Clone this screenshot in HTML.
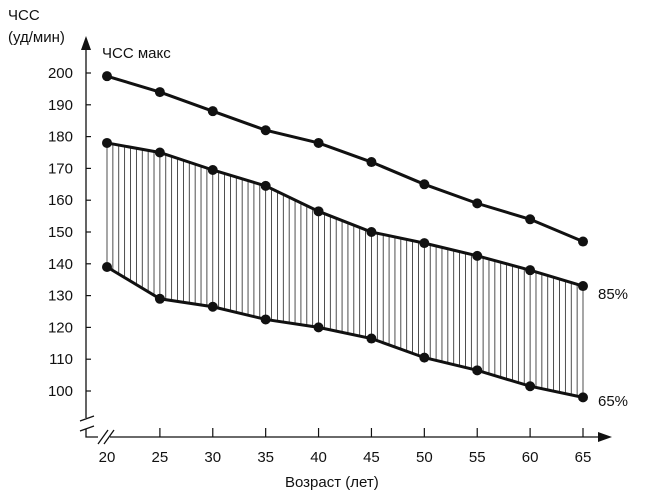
<!DOCTYPE html>
<html><head><meta charset="utf-8"><style>
body{margin:0;background:#fff}
svg text{font-family:"Liberation Sans",sans-serif;fill:#111}
</style></head><body>
<svg width="650" height="496">
<g id="g"></g>
</svg>
<script>
const ages=[20,25,30,35,40,45,50,55,60,65];
const hrMax=[199,194,188,182,178,172,165,159,154,147];
const hr85=[178,175,169.5,164.5,156.5,150,146.5,142.5,138,133];
const hr65=[139,129,126.5,122.5,120,116.5,110.5,106.5,101.5,98];
const yTicks=[100,110,120,130,140,150,160,170,180,190,200];
const X=a=>107+(a-20)*(583-107)/45;
const Y=v=>391-(v-100)*(391-73)/100;
const g=document.getElementById('g');
const NS='http://www.w3.org/2000/svg';
function mk(t,at,txt){const e=document.createElementNS(NS,t);for(const k in at)e.setAttribute(k,at[k]);if(txt!=null)e.textContent=txt;g.appendChild(e);return e;}
// hatch
for(let i=0;i<ages.length-1;i++){
  const x0=X(ages[i]),x1=X(ages[i+1]);
  const n=9;
  for(let j=0;j<n;j++){
    const t=j/n;const x=x0+(x1-x0)*t;
    const a=Y(hr85[i]+(hr85[i+1]-hr85[i])*t), b=Y(hr65[i]+(hr65[i+1]-hr65[i])*t);
    const l=mk('line',{x1:x,x2:x,y1:a,y2:b,stroke:'#222','stroke-width':0.8});
    
  }
}
let l=mk('line',{x1:X(65),x2:X(65),y1:Y(hr85[9]),y2:Y(hr65[9]),stroke:'#222','stroke-width':0.8});
// axes
let ax=mk('path',{d:'M86 48 V418 M80 421 L94 416 M80 431 L94 426 M86 429 V437 H98 M98 444 L108 430 M104 444 L114 430 M110 437 H600',stroke:'#111','stroke-width':1.3,fill:'none'});

mk('path',{d:'M86 36 L81 50 L91 50 Z',fill:'#111'});
mk('path',{d:'M612 437 L598 432 L598 442 Z',fill:'#111'});
yTicks.forEach(v=>{
  const tk=mk('line',{x1:86,x2:91,y1:Y(v),y2:Y(v),stroke:'#111','stroke-width':1.2});
  
  const t=mk('text',{x:73,y:Y(v)+5,'text-anchor':'end','font-size':15},v);
  
});
ages.forEach(a=>{
  if(a>20){const tk=mk('line',{x1:X(a),x2:X(a),y1:428,y2:437,stroke:'#111','stroke-width':1.2});
  }
  const t=mk('text',{x:X(a),y:462,'text-anchor':'middle','font-size':15},a);
  
});
[[hrMax,'line-hr-max'],[hr85,'line-85'],[hr65,'line-65']].forEach(([s,n])=>{
  const p=mk('polyline',{points:ages.map((a,i)=>X(a)+','+Y(s[i])).join(' '),fill:'none',stroke:'#111','stroke-width':3});
  
  ages.forEach((a,i)=>{const c=mk('circle',{cx:X(a),cy:Y(s[i]),r:5,fill:'#111'});
  });
});
const labs=[[8,20,'ЧСС','y-axis-title'],[8,42,'(уд/мин)','y-axis-unit'],[102,58,'ЧСС макс','label-hr-max'],[598,299,'85%','label-85'],[598,406,'65%','label-65'],[285,487,'Возраст (лет)','x-axis-title']];
labs.forEach(([x,y,s,n])=>{const t=mk('text',{x:x,y:y,'font-size':15},s);
});
</script>
</body></html>
